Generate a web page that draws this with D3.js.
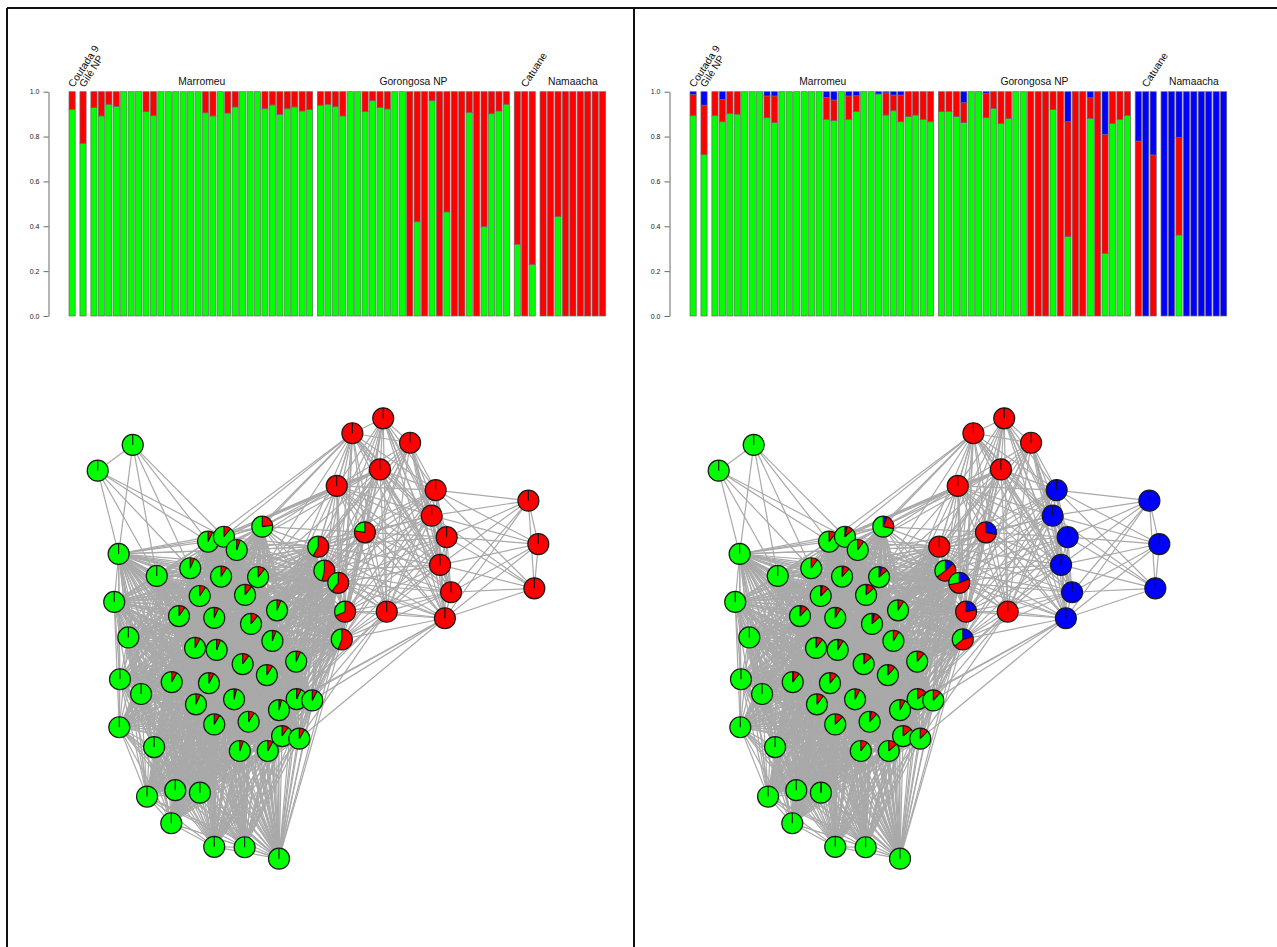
<!DOCTYPE html>
<html>
<head>
<meta charset="utf-8">
<script src="https://cdn.jsdelivr.net/npm/d3@7"></script>
<style>
body { margin: 0; background: #fff; }
text { font-family: Arial, "Liberation Sans", Helvetica, sans-serif; }
</style>
</head>
<body>
<svg id="fig"></svg>
<script>
// populations, in bar order
var popNames = ["Coutada 9", "Gilé NP", "Marromeu", "Gorongosa NP", "Catuane", "Namaacha"];
var popSizes = [1, 1, 30, 26, 3, 9];
var popRotated = [true, true, false, false, true, false];

// K=2 : share of cluster 1 (green), the rest is cluster 2 (red)
var k2Green = [0.921, 0.770,
    0.929, 0.892, 0.944, 0.935, 1, 1, 1, 0.911, 0.893, 1, 1, 1, 1, 1, 1, 0.906, 0.892, 1, 0.905, 0.932, 1, 1, 1, 0.924, 0.941, 0.899, 0.924, 0.932, 0.914, 0.920,
    0.940, 0.944, 0.933, 0.892, 1, 1, 0.911, 0.960, 0.929, 0.923, 1, 1, 0, 0.420, 0, 0.960, 0, 0.464, 0, 0, 0.908, 0, 0.398, 0.902, 0.914, 0.944,
    0.320, 0, 0.230,
    0, 0, 0.444, 0, 0, 0, 0, 0, 0];

// K=3 : green, red, blue
var k3Green = [0.893, 0.720,
    0.893, 0.866, 0.903, 0.900, 1, 1, 1, 0.884, 0.862, 1, 1, 1, 1, 1, 1, 0.877, 0.871, 1, 0.877, 0.911, 1, 1, 0.990, 0.896, 0.915, 0.866, 0.889, 0.896, 0.877, 0.866,
    0.911, 0.912, 0.889, 0.862, 1, 1, 0.884, 0.926, 0.859, 0.881, 1, 1, 0, 0, 0, 0.921, 0, 0.354, 0, 0, 0.881, 0, 0.279, 0.859, 0.877, 0.894,
    0, 0, 0,
    0, 0, 0.361, 0, 0, 0, 0, 0, 0];
var k3Red = [0.095, 0.220,
    0.107, 0.100, 0.097, 0.100, 0, 0, 0, 0.097, 0.119, 0, 0, 0, 0, 0, 0, 0.098, 0.092, 0, 0.104, 0.071, 0, 0, 0, 0.099, 0.070, 0.119, 0.111, 0.104, 0.123, 0.134,
    0.089, 0.088, 0.111, 0.089, 0, 0, 0.109, 0.074, 0.141, 0.119, 0, 0, 1, 1, 1, 0.079, 1, 0.512, 1, 1, 0.092, 1, 0.531, 0.141, 0.123, 0.106,
    0.780, 0, 0.718,
    0, 0, 0.434, 0, 0, 0, 0, 0, 0];
var k3Blue = [0.012, 0.060,
    0, 0.034, 0, 0, 0, 0, 0, 0.019, 0.019, 0, 0, 0, 0, 0, 0, 0.025, 0.037, 0, 0.019, 0.018, 0, 0, 0.010, 0.005, 0.015, 0.015, 0, 0, 0, 0,
    0, 0, 0, 0.049, 0, 0, 0.007, 0, 0, 0, 0, 0, 0, 0, 0, 0, 0, 0.134, 0, 0, 0.027, 0, 0.190, 0, 0, 0,
    0.220, 1, 0.282,
    1, 1, 0.205, 1, 1, 1, 1, 1, 1];

// network layout (rescaled to -1..1), one point per individual
var layoutX = [-0.664, -0.253, -0.499, -0.427, -0.369, -0.580, -0.841, -1.000, -0.905, -0.440,
    -0.331, -0.732, -0.925, -0.861, -0.899, -0.803, -0.902, -0.537, -0.304, -0.744,
    -0.631, -0.471, -0.776, -0.648, -0.536, -0.558, -0.460, -0.342, -0.495, -0.554,
    -0.471, -0.228, -0.186, -0.207, -0.099, -0.272, -0.666, -0.471, -0.232, -0.381,
    -0.097, -0.026, -0.333, -0.177, 0.296, 0.001, 0.156, -0.177, 0.418, 0.029,
    0.281, 0.085, -0.315, 0.312, 0.092, -0.163, -0.085, -0.355, 0.123, 0.534,
    0.213, 0.516, 0.584, 0.108, 0.554, 0.604, 0.576, 0.955, 1.000, 0.982];
var layoutY = [-0.198, 0.508, 0.440, 0.462, 0.402, 0.319, 0.879, 0.762, 0.384, 0.281,
    0.198, 0.284, 0.166, 0.005, -0.185, -0.252, -0.403, 0.193, 0.066, -0.493,
    0.102, 0.094, -0.718, -0.689, -0.700, -0.043, -0.052, -0.116, -0.203, -0.299,
    -0.390, -0.511, 0.128, -0.011, -0.105, 0.279, -0.839, -0.946, -0.166, -0.276,
    -0.275, -0.281, -0.948, -1.000, 1.000, 0.417, 0.932, -0.325, 0.889, 0.308,
    0.768, 0.693, -0.378, 0.122, 0.253, -0.443, -0.455, -0.511, 0.122, 0.674,
    0.482, 0.558, 0.460, -0.004, 0.334, 0.210, 0.092, 0.626, 0.429, 0.228];

// groups of individuals used to describe the edges
var leftRim = [8, 11, 12, 13, 14, 15, 16, 19];
var bottomRim = [22, 23, 24, 36, 37, 42, 43];
var greenCore = [0, 2, 3, 4, 5, 9, 10, 17, 18, 20, 21, 25, 26, 27, 28, 29, 30, 31, 32, 33, 34, 35, 38, 39, 40, 41, 47, 52, 55, 56, 57];
var admixed = [1, 45, 49, 54, 58, 63];
var redCore = [44, 46, 48, 50, 51, 53];
var eastColumn = [59, 61, 62, 64, 65, 66];
var eastTrio = [67, 68, 69];

// every pair inside a clique is linked
var cliques = [
    greenCore.concat(leftRim, bottomRim, admixed),
    redCore.concat([45, 49, 54, 58, 60, 63], eastColumn),
    eastColumn.concat(eastTrio),
    [6, 7]
];
// every member of the first list is linked to every member of the second
var bridges = [
    [[6, 7], [8, 11, 2, 3, 5]],
    [[1, 2, 3, 4, 35, 32], [46, 51, 50]],
    [[60], [1, 4, 35, 32, 18, 33]],
    [[53, 66], [41, 56, 40, 47]]
];

var yTicks = [0, 0.2, 0.4, 0.6, 0.8, 1.0];
var clusterColors = ["#00ff00", "#ff0000", "#0000ff"];

var W = 1277, H = 947;
var panelShift = 621;
var nodeR = 10.5;

var svg = d3.select("#fig").attr("width", W).attr("height", H);
svg.append("rect").attr("width", W).attr("height", H).attr("fill", "#fff");

// build edge list from the groups
var edges = [];
var seen = {};
function addEdge(a, b) {
    if (a == b) return;
    var key = Math.min(a, b) + "-" + Math.max(a, b);
    if (seen[key]) return;
    seen[key] = true;
    edges.push([a, b]);
}
cliques.forEach(function (c) {
    for (var i = 0; i < c.length; i++)
        for (var j = i + 1; j < c.length; j++) addEdge(c[i], c[j]);
});
bridges.forEach(function (b) {
    b[0].forEach(function (a) { b[1].forEach(function (t) { addEdge(a, t); }); });
});

// bar slot positions (wider gap between populations)
var slots = [], s = 0;
popSizes.forEach(function (n) {
    for (var j = 0; j < n; j++) { slots.push(s); s += 1.2; }
    s += 0.565;
});
var lastSlot = slots[slots.length - 1];

var k2 = k2Green.map(function (g) { return [g, 1 - g]; });
var k3 = k3Green.map(function (g, i) { return [g, k3Red[i], k3Blue[i]]; });

function drawPanel(dx, props) {
    var g = svg.append("g").attr("transform", "translate(" + dx + ",0)");

    // ---- barplot
    var x = d3.scaleLinear().domain([0, lastSlot + 1]).range([69, 605.7]);
    var y = d3.scaleLinear().domain([0, 1]).range([316, 91.7]);

    var bars = g.append("g").selectAll("g")
        .data(props)
        .enter().append("g");
    bars.each(function (d, i) {
        var cum = 0;
        var bg = d3.select(this);
        d.forEach(function (f, k) {
            if (f <= 0) return;
            bg.append("rect")
                .attr("x", x(slots[i]))
                .attr("width", x(1) - x(0))
                .attr("y", y(cum + f))
                .attr("height", y(cum) - y(cum + f))
                .attr("fill", clusterColors[k])
                .attr("stroke", "#6a6a6a")
                .attr("stroke-width", 0.7);
            cum += f;
        });
    });

    var axis = d3.axisLeft(y).tickValues(yTicks).tickFormat(d3.format(".1f"))
        .tickSize(5).tickSizeOuter(0).tickPadding(4);
    var ax = g.append("g").attr("transform", "translate(48.5,0)").call(axis);
    ax.select(".domain").attr("stroke", "#444").attr("stroke-width", 0.8);
    ax.selectAll(".tick line").attr("stroke", "#444").attr("stroke-width", 0.8);
    ax.selectAll(".tick text").attr("font-size", 7).attr("fill", "#222")
        .attr("font-family", "Arial, 'Liberation Sans', sans-serif");

    // population labels
    var start = 0;
    popNames.forEach(function (name, p) {
        var first = slots[start], last = slots[start + popSizes[p] - 1];
        var cx = x((first + last + 1) / 2);
        if (popRotated[p]) {
            g.append("text")
                .attr("transform", "translate(" + (cx + 1.5) + ",88) rotate(-57)")
                .attr("font-size", 10.3).attr("fill", "#111")
                .text(name);
        } else {
            g.append("text")
                .attr("x", cx).attr("y", 85)
                .attr("text-anchor", "middle")
                .attr("font-size", 10.3).attr("fill", "#111")
                .text(name);
        }
        start += popSizes[p];
    });

    // ---- network
    var nx = d3.scaleLinear().domain([-1, 1]).range([97.7, 538.3]);
    var ny = d3.scaleLinear().domain([-1, 1]).range([858.7, 418.3]);

    g.append("g").selectAll("line")
        .data(edges)
        .enter().append("line")
        .attr("x1", function (d) { return nx(layoutX[d[0]]); })
        .attr("y1", function (d) { return ny(layoutY[d[0]]); })
        .attr("x2", function (d) { return nx(layoutX[d[1]]); })
        .attr("y2", function (d) { return ny(layoutY[d[1]]); })
        .attr("stroke", "#a9a9a9")
        .attr("stroke-width", 1.2);

    var arc = d3.arc().innerRadius(0).outerRadius(nodeR);
    var nodes = g.append("g").selectAll("g")
        .data(props)
        .enter().append("g")
        .attr("transform", function (d, i) {
            return "translate(" + nx(layoutX[i]) + "," + ny(layoutY[i]) + ")";
        });

    nodes.each(function (d) {
        var ng = d3.select(this);
        var cum = 0, cuts = [0];
        // slices run counter-clockwise from 12 o'clock
        d.forEach(function (f, k) {
            if (f > 0) {
                ng.append("path")
                    .attr("d", arc({ startAngle: -(cum + f) * 2 * Math.PI, endAngle: -cum * 2 * Math.PI }))
                    .attr("fill", clusterColors[k]);
                cum += f;
                if (cum < 0.999) cuts.push(cum);
            }
        });
        cuts.forEach(function (c) {
            var a = -c * 2 * Math.PI;
            ng.append("line")
                .attr("x1", 0).attr("y1", 0)
                .attr("x2", nodeR * Math.sin(a)).attr("y2", -nodeR * Math.cos(a))
                .attr("stroke", "#111").attr("stroke-width", 1.1);
        });
        ng.append("circle").attr("r", nodeR)
            .attr("fill", "none").attr("stroke", "#1a1a1a").attr("stroke-width", 1.2);
    });
}

drawPanel(0, k2);
drawPanel(panelShift, k3);

// frame lines
svg.append("line").attr("x1", 7).attr("x2", W).attr("y1", 8).attr("y2", 8)
    .attr("stroke", "#111").attr("stroke-width", 2);
svg.append("line").attr("x1", 7).attr("x2", 7).attr("y1", 8).attr("y2", H)
    .attr("stroke", "#111").attr("stroke-width", 2);
svg.append("line").attr("x1", 634).attr("x2", 634).attr("y1", 8).attr("y2", H)
    .attr("stroke", "#111").attr("stroke-width", 2);
</script>
</body>
</html>
